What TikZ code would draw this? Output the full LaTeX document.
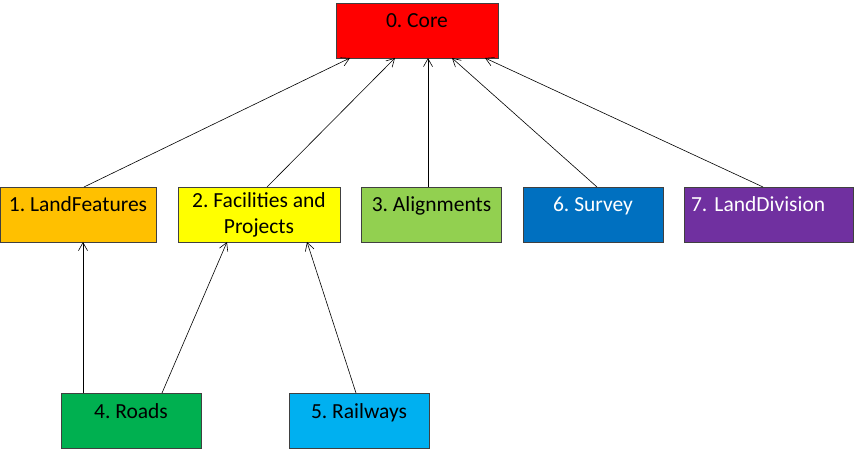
\documentclass[tikz,border=0pt]{standalone}
\usepackage{fontspec}
\setmainfont{Carlito}
\usetikzlibrary{arrows.meta}
\frenchspacing

\definecolor{coreRed}{HTML}{FF0000}
\definecolor{landOrange}{HTML}{FFC000}
\definecolor{facYellow}{HTML}{FFFF00}
\definecolor{alignGreen}{HTML}{92D050}
\definecolor{surveyBlue}{HTML}{0070C0}
\definecolor{divPurple}{HTML}{7030A0}
\definecolor{roadGreen}{HTML}{00B050}
\definecolor{railBlue}{HTML}{00B0F0}

\begin{document}
\begin{tikzpicture}[x=1pt, y=-1pt,
    pkg/.style={draw=black!75, line width=0.7pt,
        minimum width=140pt, inner xsep=4pt, inner ysep=0pt,
        text height=25pt, text depth=30pt,
        font=\fontsize{21.5}{26}\selectfont, align=center,
        outer sep=0pt},
    uses/.style={-{Straight Barb[length=8pt, width=9pt]}, line width=0.6pt}
    ]
    \useasboundingbox (0,0) rectangle (854,454);

    \node[pkg, fill=coreRed, minimum width=162pt] (core) at (417,30.5) {0. Core};

    \node[pkg, fill=landOrange, minimum width=156pt] (land) at (78,214.5) {1. LandFeatures};
    \node[pkg, fill=facYellow, minimum width=162pt, text height=, text depth=,
        minimum height=55pt] (facil) at (259,214.5) {2. Facilities and\\ Projects};
    \node[pkg, fill=alignGreen] (align) at (431.5,214.5) {3. Alignments};
    \node[pkg, fill=surveyBlue, text=white] (survey) at (593,214.5) {6. Survey};
    \node[pkg, fill=divPurple, text=white, minimum width=169pt,
        text width=155pt, align=left] (landdiv) at (768.5,214.5) {7. LandDivision};

    \node[pkg, fill=roadGreen] (roads) at (131,420.5) {4. Roads};
    \node[pkg, fill=railBlue] (rail) at (359,420.5) {5. Railways};

    % dependencies on the core
    \draw[uses] ([xshift=6pt]land.north) -- ([xshift=-67pt]core.south);
    \draw[uses] ([xshift=8pt]facil.north) -- ([xshift=-22pt]core.south);
    \draw[uses] ([xshift=-3.5pt]align.north) -- ([xshift=11pt]core.south);
    \draw[uses] ([xshift=4pt]survey.north) -- ([xshift=35pt]core.south);
    \draw[uses] ([xshift=-5.5pt]landdiv.north) -- ([xshift=68pt]core.south);

    % lower level
    \draw[uses] ([xshift=-48pt]roads.north) -- ([xshift=5pt]land.south);
    \draw[uses] ([xshift=31pt]roads.north) -- ([xshift=-32pt]facil.south);
    \draw[uses] ([xshift=-3pt]rail.north) -- ([xshift=48pt]facil.south);
\end{tikzpicture}
\end{document}
